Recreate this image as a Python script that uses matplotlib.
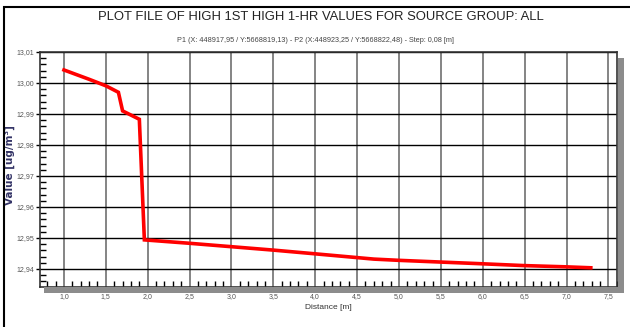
import matplotlib
matplotlib.use('Agg')
import matplotlib.pyplot as plt
from matplotlib.ticker import MultipleLocator, FuncFormatter
from matplotlib.patches import Rectangle

plt.rcParams['font.family'] = ['Liberation Sans Narrow', 'Liberation Sans', 'DejaVu Sans']

# profile
distance = [1.00, 1.30, 1.50, 1.65, 1.70, 1.90, 1.96, 2.50, 3.00, 3.50, 4.00, 4.70, 5.00, 5.90, 6.50, 7.00, 7.29]
value = [13.0042, 13.0012, 12.9991, 12.9970, 12.9910, 12.9883, 12.9494, 12.9483, 12.9472, 12.9461,
         12.9449, 12.9432, 12.9428, 12.9418, 12.9411, 12.9407, 12.9404]

title = 'PLOT FILE OF HIGH 1ST HIGH 1-HR VALUES FOR SOURCE GROUP: ALL'
subtitle = 'P1 (X: 448917,95 / Y:5668819,13) - P2 (X:448923,25 / Y:5668822,48) - Step: 0,08 [m]'


def comma(fmt):
    return FuncFormatter(lambda v, pos: (fmt % v).replace('.', ','))


fig = plt.figure(figsize=(6.3, 3.27), dpi=100)
ax = fig.add_axes([0.0635, 0.1223, 0.9155, 0.7187])

# frame around the whole window
fig.patches.append(Rectangle((4 / 630, -0.1), 1.1, 1.1 - 7 / 327,
                             transform=fig.transFigure, fill=False,
                             edgecolor='black', linewidth=1.5))
# drop shadow of the plot box
fig.patches.append(Rectangle((44 / 630, 1 - 293 / 327), 580 / 630, 6 / 327,
                             transform=fig.transFigure, facecolor='#8c8c8c',
                             edgecolor='none', zorder=0))
fig.patches.append(Rectangle((618 / 630, 1 - 293 / 327), 6 / 630, 235 / 327,
                             transform=fig.transFigure, facecolor='#8c8c8c',
                             edgecolor='none', zorder=0))

ax.plot(distance, value, color='red', linewidth=2.6, solid_joinstyle='miter', zorder=3)

ax.set_xlim(0.714, 7.6)
ax.set_ylim(12.9342, 13.01)

ax.xaxis.set_major_locator(MultipleLocator(0.5))
ax.xaxis.set_minor_locator(MultipleLocator(0.1))
ax.yaxis.set_major_locator(MultipleLocator(0.01))
ax.yaxis.set_minor_locator(MultipleLocator(0.002))
ax.xaxis.set_major_formatter(comma('%.1f'))
ax.yaxis.set_major_formatter(comma('%.2f'))

ax.grid(axis='x', which='major', color='#707070', linewidth=1.2)
ax.grid(axis='y', which='major', color='black', linewidth=1.0)
ax.set_axisbelow(True)

ax.tick_params(which='major', direction='out', length=3, width=1, labelsize=5,
               labelcolor='#555555', pad=1)
ax.tick_params(which='minor', direction='in', length=4, width=1)
for s in ax.spines.values():
    s.set_linewidth(1.2)
    s.set_color('#333333')

ax.set_xlabel('Distance [m]', fontsize=6, color='#333333', labelpad=3)
ax.set_ylabel('Value [ug/m³]', fontsize=7.5, fontweight='bold', color='#333366',
              family=['DejaVu Sans'])
ax.yaxis.set_label_coords(-0.043, 0.52)

t = fig.text(0.51, 1 - 17 / 327, title, ha='center', va='center', fontsize=12.5, color='#222222')
fig.text(0.50, 1 - 40 / 327, subtitle, ha='center', va='center', fontsize=5.2, color='#444444')

# squeeze the title to the narrow width it has in the original
fig.canvas.draw()
w = t.get_window_extent().width
t.set_fontsize(12.5 * 447 / w)

fig.savefig('out.png', dpi=100)
